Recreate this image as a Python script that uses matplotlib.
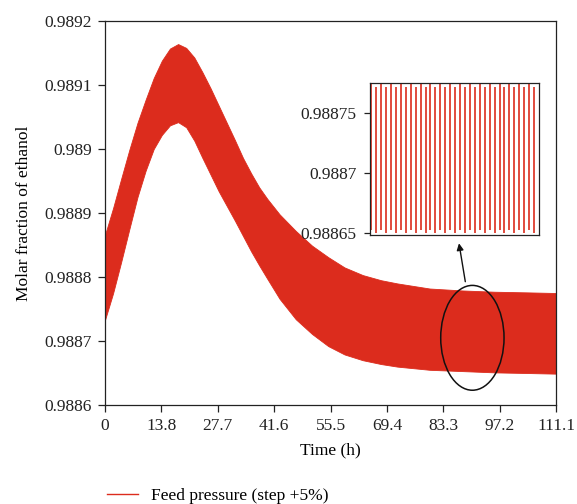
import matplotlib
matplotlib.use("Agg")
import matplotlib.pyplot as plt
from matplotlib.patches import Ellipse
from matplotlib.lines import Line2D

plt.rcParams['font.family'] = ['Liberation Serif', 'DejaVu Serif']
plt.rcParams['font.size'] = 12.5

# ---- data ----
time_h = [0, 2, 4, 6, 8, 10, 12, 14, 16, 18, 20, 22, 24, 26, 28, 30, 32, 34, 36, 38,
          40, 43, 47, 51, 55, 59, 63.5, 68, 72, 80, 88, 96, 104, 111.1]
upper_env = [0.988866, 0.988908, 0.988954, 0.988999, 0.989041, 0.989077, 0.989111,
             0.989138, 0.989157, 0.989164, 0.989158, 0.989143, 0.989120, 0.989095,
             0.989068, 0.989041, 0.989014, 0.988986, 0.988962, 0.988940, 0.988922,
             0.988898, 0.988872, 0.988849, 0.988831, 0.988815, 0.988803, 0.988795,
             0.988790, 0.988782, 0.988779, 0.988777, 0.988776, 0.988775]
lower_env = [0.988733, 0.988775, 0.988824, 0.988875, 0.988925, 0.988966, 0.989000,
             0.989022, 0.989037, 0.989042, 0.989034, 0.989013, 0.988986, 0.988960,
             0.988934, 0.988911, 0.988888, 0.988864, 0.988840, 0.988818, 0.988797,
             0.988766, 0.988734, 0.988711, 0.988692, 0.988679, 0.988670, 0.988664,
             0.988660, 0.988655, 0.988653, 0.988651, 0.988650, 0.988649]

xtick_labels = ["0", "13.8", "27.7", "41.6", "55.5", "69.4", "83.3", "97.2", "111.1"]
ytick_values = [0.9886, 0.9887, 0.9888, 0.9889, 0.9890, 0.9891, 0.9892]
ytick_labels = ["0.9886", "0.9887", "0.9888", "0.9889", "0.989", "0.9891", "0.9892"]

# inset: individual oscillation strokes (trough -> peak)
inset_lows = [0.9886525, 0.988650] * 17
inset_highs = [0.988790, 0.988771] * 17
inset_ticks = [0.98865, 0.98870, 0.98875]
inset_tick_labels = ["0.98865", "0.9887", "0.98875"]

series_label = "Feed pressure (step +5%)"
red = "#dc2c1d"

# ---- figure ----
fig = plt.figure(figsize=(5.77, 5.04), dpi=100)
ax = fig.add_axes([0.182, 0.1964, 0.7816, 0.7619])

ax.fill_between(time_h, lower_env, upper_env, color=red, linewidth=0.6, edgecolor=red)

ax.set_xlim(0, 111.1)
ax.set_ylim(0.9886, 0.9892)
n = len(xtick_labels)
ax.set_xticks([111.1 * i / (n - 1) for i in range(n)])
ax.set_xticklabels(xtick_labels)
ax.set_yticks(ytick_values)
ax.set_yticklabels(ytick_labels)
ax.tick_params(direction='out', length=5.3, width=0.9, pad=4, labelsize=12.5,
               colors='#222222')
for s in ax.spines.values():
    s.set_linewidth(0.9)
    s.set_color('#222222')

ax.set_xlabel("Time (h)", fontsize=12.5, labelpad=6)
ax.set_ylabel("Molar fraction of ethanol", fontsize=12.5, labelpad=9)

# ellipse highlighting region and arrow to inset
ax.add_patch(Ellipse((90.5, 0.988705), 15.6, 0.0001638, fill=False,
                     edgecolor='#111111', linewidth=1.1))
ax.annotate("", xy=(87.2, 0.9888527), xytext=(88.76, 0.9887927),
            arrowprops=dict(arrowstyle='-|>', color='#111111', lw=1.0,
                            mutation_scale=10, shrinkA=0, shrinkB=0))

# inset
axin = fig.add_axes([0.6412, 0.5337, 0.2929, 0.3026])
axin.vlines(range(len(inset_lows)), inset_lows, inset_highs, color=red, linewidth=1.2)
axin.set_xlim(-0.27, len(inset_lows))
axin.set_ylim(0.988648, 0.988775)
axin.set_xticks([])
axin.set_yticks(inset_ticks)
axin.set_yticklabels(inset_tick_labels)
axin.tick_params(direction='out', length=4.5, width=0.9, pad=5, labelsize=12.5,
                 colors='#222222')
for s in axin.spines.values():
    s.set_linewidth(0.9)
    s.set_color('#222222')

# legend below
handle = Line2D([], [], color=red, linewidth=1.0)
fig.legend([handle], [series_label], loc='center left',
           bbox_to_anchor=(0.1854, 0.0159), frameon=False, fontsize=12.5,
           borderaxespad=0, borderpad=0, handlelength=1.8, handletextpad=0.72)

fig.savefig("out.png", dpi=100)
